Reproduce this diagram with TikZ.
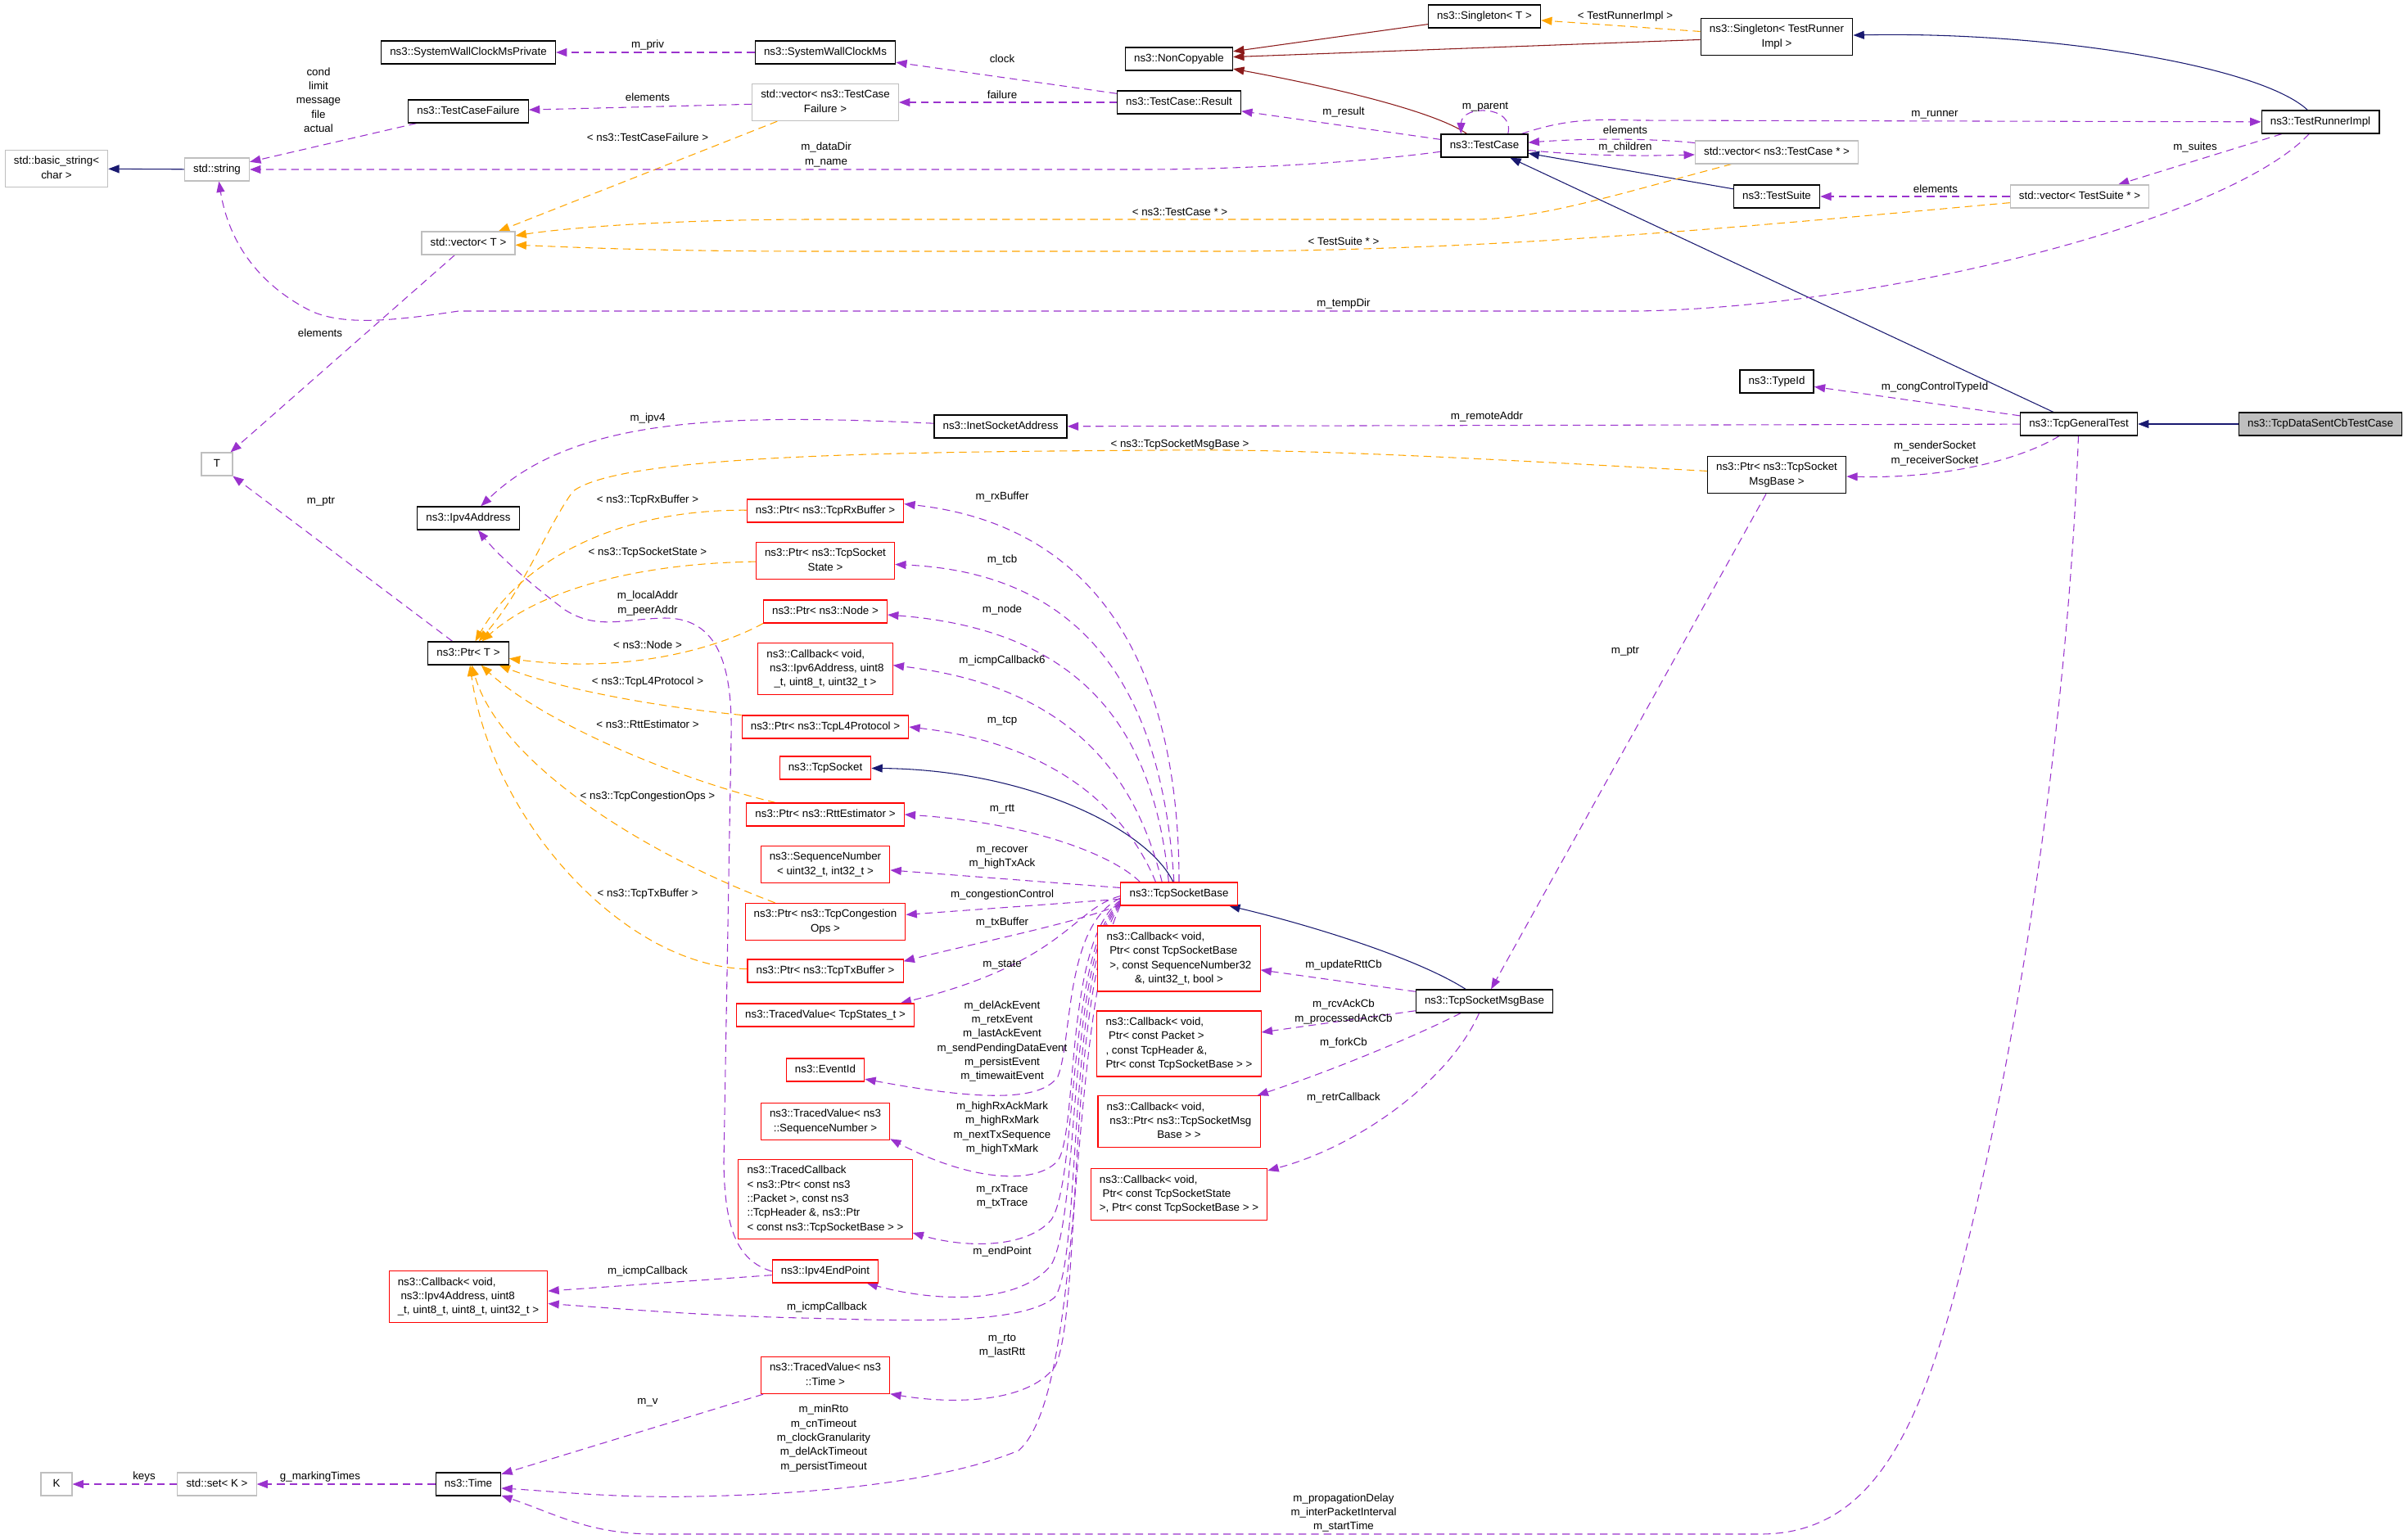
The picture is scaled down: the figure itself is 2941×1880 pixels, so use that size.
\documentclass[tikz,border=0pt]{standalone}
\usepackage{fontspec}
\setmainfont{Liberation Sans}
\usetikzlibrary{arrows.meta,backgrounds}
\definecolor{inhcol}{HTML}{191970}
\definecolor{pinhcol}{HTML}{8B1A1A}
\definecolor{membcol}{HTML}{9A32CD}
\definecolor{tplcol}{HTML}{FFA500}
\definecolor{undoc}{HTML}{BFBFBF}
\newcommand{\mlab}[2]{\begin{tabular}{@{}l@{}}#1\\\multicolumn{1}{@{}c@{}}{#2}\end{tabular}}

\begin{document}
\begin{tikzpicture}[x=0.75pt,y=-0.75pt,
  every node/.style={font=\fontsize{10}{13}\selectfont},
  cls/.style={draw=black,line width=1pt,fill=white,inner xsep=8pt,inner ysep=4pt,text height=9.1pt,text depth=3.9pt},
  ext/.style={cls,draw=undoc,line width=0.8pt},
  trunc/.style={cls,draw=red,line width=0.8pt},
  ml/.style={text height={},text depth={}},
  lab/.style={inner sep=0pt,align=center},
  inh/.style={draw=inhcol,line width=0.8pt,-{Triangle[length=10pt,width=7.5pt]}},
  pinh/.style={inh,draw=pinhcol},
  memb/.style={draw=membcol,line width=0.8pt,dash pattern=on 7pt off 4.5pt,-{Triangle[length=10pt,width=7.5pt]}},
  tmpl/.style={memb,draw=tplcol}]
\useasboundingbox (0,0) rectangle (2941,1880);

\node[cls] (swcmp) at (572,64) {ns3::SystemWallClockMsPrivate};
\node[cls] (swcm) at (1008,64) {ns3::SystemWallClockMs};
\node[cls] (ncp) at (1440,72) {ns3::NonCopyable};
\node[cls] (sgt) at (1813,20) {ns3::Singleton< T >};
\node[cls,ml] (sgtr) at (2170,45) {\mlab{ns3::Singleton< TestRunner}{Impl >}};
\node[cls] (tcf) at (572,136) {ns3::TestCaseFailure};
\node[ext,ml] (vtcf) at (1008,125) {\mlab{std::vector< ns3::TestCase}{Failure >}};
\node[cls] (res) at (1440,125) {ns3::TestCase::Result};
\node[cls] (tc) at (1813,178) {ns3::TestCase};
\node[cls] (tri) at (2834,149) {ns3::TestRunnerImpl};
\node[ext] (vtc) at (2170,186) {std::vector< ns3::TestCase * >};
\node[cls] (ts) at (2170,240) {ns3::TestSuite};
\node[ext] (vts) at (2540,240) {std::vector< TestSuite * >};
\node[ext,ml] (bstr) at (69,206) {\mlab{std::basic\_string<}{char >}};
\node[ext] (str) at (265,207) {std::string};
\node[ext] (vt) at (572,297) {std::vector< T >};
\node[cls] (tid) at (2170,466) {ns3::TypeId};
\node[ext,minimum width=28.5pt] (T) at (265,567) {T};
\node[cls] (isa) at (1222,521) {ns3::InetSocketAddress};
\node[cls] (tgt) at (2539,518) {ns3::TcpGeneralTest};
\node[cls,fill=undoc] (tdc) at (2834,518) {ns3::TcpDataSentCbTestCase};
\node[cls,ml] (ptsm) at (2170,580) {\mlab{ns3::Ptr< ns3::TcpSocket}{MsgBase >}};
\node[cls] (ip4) at (572,633) {ns3::Ipv4Address};
\node[cls] (ptrt) at (572,798) {ns3::Ptr< T >};
\node[trunc] (prx) at (1008,624) {ns3::Ptr< ns3::TcpRxBuffer >};
\node[trunc,ml] (pss) at (1008,685) {\mlab{ns3::Ptr< ns3::TcpSocket}{State >}};
\node[trunc] (pnd) at (1008,747) {ns3::Ptr< ns3::Node >};
\node[trunc,ml] (cb6) at (1008,817) {\mlab{ns3::Callback< void,\\~ns3::Ipv6Address, uint8}{\_t, uint8\_t, uint32\_t >}};
\node[trunc] (pl4) at (1008,888) {ns3::Ptr< ns3::TcpL4Protocol >};
\node[trunc] (tsk) at (1008,938) {ns3::TcpSocket};
\node[trunc] (prtt) at (1008,995) {ns3::Ptr< ns3::RttEstimator >};
\node[trunc,ml] (sqn) at (1008,1056) {\mlab{ns3::SequenceNumber}{< uint32\_t, int32\_t >}};
\node[trunc,ml] (pcg) at (1008,1126) {\mlab{ns3::Ptr< ns3::TcpCongestion}{Ops >}};
\node[trunc] (ptx) at (1008,1186) {ns3::Ptr< ns3::TcpTxBuffer >};
\node[trunc] (tvst) at (1008,1240) {ns3::TracedValue< TcpStates\_t >};
\node[trunc] (evt) at (1008,1307) {ns3::EventId};
\node[trunc,ml] (tvsq) at (1008,1370) {\mlab{ns3::TracedValue< ns3}{::SequenceNumber >}};
\node[trunc,ml] (tcb) at (1008,1465) {\mlab{ns3::TracedCallback\\< ns3::Ptr< const ns3\\::Packet >, const ns3\\::TcpHeader \&, ns3::Ptr}{< const ns3::TcpSocketBase > >}};
\node[trunc] (iep) at (1008,1553) {ns3::Ipv4EndPoint};
\node[trunc,ml] (tvtm) at (1008,1680) {\mlab{ns3::TracedValue< ns3}{::Time >}};
\node[trunc,ml] (cb4) at (572,1584) {\mlab{ns3::Callback< void,\\~ns3::Ipv4Address, uint8}{\_t, uint8\_t, uint8\_t, uint32\_t >}};
\node[trunc] (tsb) at (1440,1092) {ns3::TcpSocketBase};
\node[trunc,ml] (cbr) at (1440,1171) {\mlab{ns3::Callback< void,\\~Ptr< const TcpSocketBase\\~>, const SequenceNumber32}{\&, uint32\_t, bool >}};
\node[trunc,ml] (cbp) at (1440,1275) {\mlab{ns3::Callback< void,\\~Ptr< const Packet >\\, const TcpHeader \&,}{Ptr< const TcpSocketBase > >}};
\node[trunc,ml] (cbf) at (1440,1370) {\mlab{ns3::Callback< void,\\~ns3::Ptr< ns3::TcpSocketMsg}{Base > >}};
\node[trunc,ml] (cbx) at (1440,1459) {\mlab{ns3::Callback< void,\\~Ptr< const TcpSocketState}{>, Ptr< const TcpSocketBase > >}};
\node[cls] (tsmb) at (1813,1223) {ns3::TcpSocketMsgBase};
\node[ext,minimum width=28.5pt] (K) at (69,1813) {K};
\node[ext] (setk) at (265,1813) {std::set< K >};
\node[cls] (tm) at (572,1813) {ns3::Time};

\begin{pgfonlayer}{background}
\draw[inh] (tdc) -- (tgt);
\draw[inh] (tgt) -- (tc);
\draw[inh] (ts) -- (tc);
\draw[inh] (tri) .. controls (2760,80) and (2500,38) .. (sgtr);
\draw[inh] (tsmb) .. controls (1730,1170) and (1600,1130) .. (tsb);
\draw[inh] (tsb) .. controls (1400,1010) and (1250,940) .. (tsk);
\draw[inh] (str) -- (bstr);
\draw[pinh] (tc) .. controls (1750,135) and (1620,105) .. (ncp);
\draw[pinh] (sgt) -- (ncp);
\draw[pinh] (sgtr) -- (ncp);

\draw[tmpl] (sgtr) -- (sgt);
\draw[tmpl] (vtcf) -- (vt);
\draw[tmpl] (vtc) .. controls (1980,236) and (1880,268) .. (1800,268) -- (1000,268) .. controls (800,268) and (680,280) .. (vt);
\draw[tmpl] (vts) .. controls (2150,275) and (1850,305) .. (1500,307) -- (1000,307) .. controls (800,307) and (700,302) .. (vt);
\draw[tmpl] (ptsm) .. controls (1800,560) and (1600,548) .. (1417,550) .. controls (1100,552) and (760,555) .. (700,600) .. controls (670,640) and (640,720) .. (ptrt);
\draw[tmpl] (prx) .. controls (760,622) and (640,680) .. (ptrt);
\draw[tmpl] (pss) .. controls (780,688) and (660,720) .. (ptrt);
\draw[tmpl] (pnd.south west) .. controls (890,785) and (780,825) .. (ptrt);
\draw[tmpl] (pl4.north west) .. controls (790,862) and (680,840) .. (ptrt);
\draw[tmpl] (prtt) .. controls (820,950) and (660,880) .. (ptrt);
\draw[tmpl] (pcg) .. controls (780,1040) and (610,930) .. (ptrt);
\draw[tmpl] (ptx) .. controls (760,1180) and (600,1000) .. (ptrt);

\draw[memb] (swcm) -- (swcmp);
\draw[memb] (res) -- (swcm);
\draw[memb] (res) -- (vtcf);
\draw[memb] (vtcf) -- (tcf);
\draw[memb] (tcf) -- (str);
\draw[memb] (tc) .. controls (1650,200) and (1500,207) .. (1400,207) -- (str);
\draw[memb] (tc) -- (res);
\draw[memb] (tc.27) .. controls (1850,128) and (1785,128) .. (tc.153);
\draw[memb] (tc) .. controls (1900,150) and (1930,144) .. (2000,147) -- (tri);
\draw[memb] (vtc) .. controls (2030,170) and (1950,168) .. (tc);
\draw[memb] (tc) .. controls (1930,190) and (2000,191) .. (vtc);
\draw[memb] (tri) -- (vts);
\draw[memb] (vts) -- (ts);
\draw[memb] (tri) .. controls (2720,270) and (2300,375) .. (2000,380) -- (560,380) .. controls (480,392) and (420,398) .. (380,380) .. controls (320,350) and (280,300) .. (str);
\draw[memb] (vt) -- (T);
\draw[memb] (ptrt) -- (T);
\draw[memb] (isa) .. controls (880,505) and (700,510) .. (ip4);
\draw[memb] (tgt) -- (isa);
\draw[memb] (tgt) -- (tid);
\draw[memb] (tgt) .. controls (2470,560) and (2380,585) .. (ptsm);
\draw[memb] (ptsm) -- (tsmb);
\draw[memb] (tgt) .. controls (2525,900) and (2460,1300) .. (2391,1567) .. controls (2340,1760) and (2280,1874) .. (2150,1874) -- (800,1874) .. controls (720,1874) and (680,1850) .. (tm);

\draw[memb] (tsb.90) .. controls (1440,800) and (1330,640) .. (prx.5);
\draw[memb] (tsb.113) .. controls (1420,850) and (1330,700) .. (pss.-3);
\draw[memb] (tsb.131) .. controls (1410,900) and (1330,770) .. (pnd.-3);
\draw[memb] (tsb.145) .. controls (1390,960) and (1320,840) .. (cb6.3);
\draw[memb] (tsb.153) .. controls (1380,1000) and (1300,910) .. (pl4.east);
\draw[memb] (tsb.163) .. controls (1360,1045) and (1260,1005) .. (prtt.east);
\draw[memb] (tsb.174) -- (sqn.-5);
\draw[memb] (tsb.185) -- (pcg.5);
\draw[memb] (tsb.190) .. controls (1325,1125) and (1200,1150) .. (ptx.7);
\draw[memb] (tsb.182) .. controls (1310,1110) and (1302,1175) .. (tvst.9);
\draw[memb] (tsb.184) .. controls (1300,1130) and (1310,1270) .. (1292,1315) .. controls (1272,1345) and (1200,1345) .. (evt.-13);
\draw[memb] (tsb.186) .. controls (1300,1150) and (1317,1380) .. (1292,1418) .. controls (1262,1450) and (1180,1440) .. (tvsq.-15);
\draw[memb] (tsb.187) .. controls (1302,1160) and (1317,1440) .. (1284,1490) .. controls (1254,1525) and (1180,1525) .. (tcb.-21);
\draw[memb] (tsb.188) .. controls (1302,1170) and (1320,1480) .. (1284,1545) .. controls (1244,1595) and (1140,1590) .. (iep.-16);
\draw[memb] (tsb.189) .. controls (1302,1180) and (1322,1540) .. (1288,1585) .. controls (1244,1620) and (1100,1613) .. (980,1610) .. controls (850,1607) and (750,1598) .. (cb4.-5);
\draw[memb] (tsb.190) .. controls (1302,1200) and (1322,1610) .. (1288,1670) .. controls (1254,1715) and (1160,1715) .. (tvtm.-16);
\draw[memb] (tsb.191) .. controls (1302,1250) and (1327,1700) .. (1244,1772) .. controls (1150,1810) and (1000,1825) .. (850,1828) .. controls (750,1830) and (680,1822) .. (tm.-7);
\draw[memb] (tvtm) -- (tm);
\draw[memb] (tm) -- (setk);
\draw[memb] (setk) -- (K);
\draw[memb] (iep.west) .. controls (900,1540) and (885,1500) .. (884,1420) -- (893,900) .. controls (895,800) and (870,755) .. (812,755) .. controls (760,756) and (730,770) .. (690,745) .. controls (650,715) and (610,680) .. (ip4);
\draw[memb] (iep) -- (cb4);
\draw[memb] (tsmb) -- (cbr);
\draw[memb] (tsmb) -- (cbp);
\draw[memb] (tsmb) .. controls (1720,1270) and (1620,1310) .. (cbf);
\draw[memb] (tsmb) .. controls (1770,1320) and (1660,1400) .. (cbx);
\end{pgfonlayer}

\node[lab] (lpriv) at (791,55) {m\_priv};
\node[lab] (lel1) at (791,119) {elements};
\node[lab] (ltcf) at (791,168) {< ns3::TestCaseFailure >};
\node[lab] (lcond) at (389,122) {cond\\limit\\message\\file\\actual};
\node[lab] (lel2) at (391,407) {elements};
\node[lab] (lclock) at (1224,72) {clock};
\node[lab] (lfail) at (1224,116) {failure};
\node[lab] (lres) at (1641,137) {m\_result};
\node[lab] (lpar) at (1814,131) {m\_parent};
\node[lab] (ldir) at (1009,189) {m\_dataDir\\m\_name};
\node[lab] (ltcp) at (1441,259) {< ns3::TestCase * >};
\node[lab] (ltsp) at (1641,295) {< TestSuite * >};
\node[lab] (ltmp) at (1641,371) {m\_tempDir};
\node[lab] (ltri) at (1985,20) {< TestRunnerImpl >};
\node[lab] (lrun) at (2363,140) {m\_runner};
\node[lab] (lel3) at (1985,159) {elements};
\node[lab] (lchi) at (1985,180) {m\_children};
\node[lab] (lsui) at (2681,180) {m\_suites};
\node[lab] (lel4) at (2364,231) {elements};
\node[lab] (lcct) at (2363,473) {m\_congControlTypeId};
\node[lab] (lrem) at (1816,509) {m\_remoteAddr};
\node[lab] (lsock) at (2363,554) {m\_senderSocket\\m\_receiverSocket};
\node[lab] (ltsmb) at (1441,543) {< ns3::TcpSocketMsgBase >};
\node[lab] (lptr1) at (1985,796) {m\_ptr};
\node[lab] (lptr2) at (392,613) {m\_ptr};
\node[lab] (lipv4) at (791,511) {m\_ipv4};
\node[lab] (lrxb) at (791,611) {< ns3::TcpRxBuffer >};
\node[lab] (lsst) at (791,675) {< ns3::TcpSocketState >};
\node[lab] (laddr) at (791,737) {m\_localAddr\\m\_peerAddr};
\node[lab] (lnode) at (791,788) {< ns3::Node >};
\node[lab] (ll4) at (791,833) {< ns3::TcpL4Protocol >};
\node[lab] (lrtt) at (791,885) {< ns3::RttEstimator >};
\node[lab] (lcong) at (791,973) {< ns3::TcpCongestionOps >};
\node[lab] (ltxb) at (791,1092) {< ns3::TcpTxBuffer >};
\node[lab] (lrxbuf) at (1224,607) {m\_rxBuffer};
\node[lab] (ltcb) at (1224,684) {m\_tcb};
\node[lab] (lnd) at (1224,745) {m\_node};
\node[lab] (licmp6) at (1224,807) {m\_icmpCallback6};
\node[lab] (ltcpm) at (1224,881) {m\_tcp};
\node[lab] (lrttm) at (1224,989) {m\_rtt};
\node[lab] (lrec) at (1224,1048) {m\_recover\\m\_highTxAck};
\node[lab] (lcc) at (1224,1093) {m\_congestionControl};
\node[lab] (ltxbuf) at (1224,1127) {m\_txBuffer};
\node[lab] (lstate) at (1224,1179) {m\_state};
\node[lab] (levt) at (1224,1272) {m\_delAckEvent\\m\_retxEvent\\m\_lastAckEvent\\m\_sendPendingDataEvent\\m\_persistEvent\\m\_timewaitEvent};
\node[lab] (lmark) at (1224,1378) {m\_highRxAckMark\\m\_highRxMark\\m\_nextTxSequence\\m\_highTxMark};
\node[lab] (ltrace) at (1224,1462) {m\_rxTrace\\m\_txTrace};
\node[lab] (lend) at (1224,1529) {m\_endPoint};
\node[lab] (lrto) at (1224,1644) {m\_rto\\m\_lastRtt};
\node[lab] (licmp1) at (791,1553) {m\_icmpCallback};
\node[lab] (licmp2) at (1010,1597) {m\_icmpCallback};
\node[lab] (lv) at (791,1713) {m\_v};
\node[lab] (ltmo) at (1006,1757) {m\_minRto\\m\_cnTimeout\\m\_clockGranularity\\m\_delAckTimeout\\m\_persistTimeout};
\node[lab] (lkeys) at (176,1804) {keys};
\node[lab] (lmark2) at (391,1804) {g\_markingTimes};
\node[lab] (lupd) at (1641,1179) {m\_updateRttCb};
\node[lab] (lrcv) at (1641,1236) {m\_rcvAckCb\\m\_processedAckCb};
\node[lab] (lfork) at (1641,1274) {m\_forkCb};
\node[lab] (lretr) at (1641,1341) {m\_retrCallback};
\node[lab] (lprop) at (1641,1848) {m\_propagationDelay\\m\_interPacketInterval\\m\_startTime};
\end{tikzpicture}
\end{document}
